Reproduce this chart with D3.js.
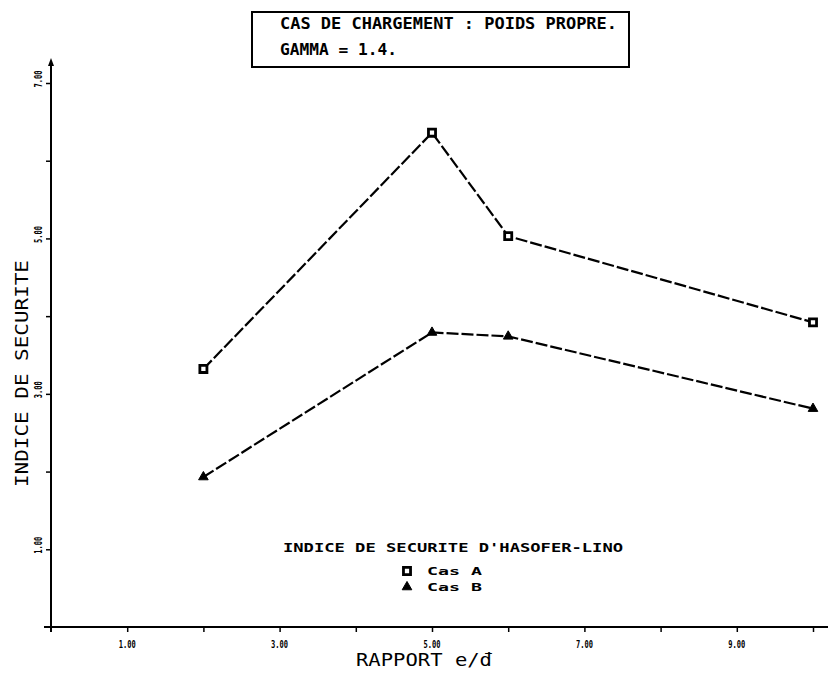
<!DOCTYPE html>
<html>
<head>
<meta charset="utf-8">
<script src="https://cdn.jsdelivr.net/npm/d3@7"></script>
<style>
  html, body { margin: 0; padding: 0; background: #fff; }
  svg { display: block; }
  text { font-family: "DejaVu Sans Mono", "Liberation Mono", monospace; fill: #000; }
  .thin { font-family: "DejaVu Sans Mono", monospace; font-weight: normal; }
</style>
</head>
<body>
<svg id="chart" width="828" height="677"></svg>
<script>
// Rapport e/d (abscissa) for each computed case
const rapport = [2, 5, 6, 10];
// Safety index (Hasofer-Lind) for each case
const casA = [3.32, 6.36, 5.03, 3.92];
const casB = [1.93, 3.79, 3.74, 2.81];

const seriesNames = ["Cas A", "Cas B"];
const xMajorTicks = [1, 3, 5, 7, 9];
const xMinorTicks = [2, 4, 6, 8, 10];
const yMajorTicks = [1, 3, 5, 7];
const yMinorTicks = [2, 4, 6];

const titleLines = ["CAS DE CHARGEMENT : POIDS PROPRE.", "GAMMA = 1.4."];
const legendTitle = "INDICE DE SECURITE D'HASOFER-LINO";
const xTitle = "RAPPORT e/\u0111";
const yTitle = "INDICE DE SECURITE";

const svg = d3.select("#chart");

const x = d3.scaleLinear().domain([0, 10]).range([51, 813]);
const y = d3.scaleLinear().domain([0, 7]).range([627, 83]);
const fmt = d3.format(".2f");

// ---- Axes ----
const xAxisG = svg.append("g").attr("transform", `translate(0,${y(0)})`);
xAxisG.call(d3.axisBottom(x).tickValues(xMajorTicks.concat(xMinorTicks))
  .tickSize(5).tickFormat(""));
xAxisG.select(".domain").remove();
xAxisG.selectAll(".tick line").attr("stroke", "#000").attr("stroke-width", 1.5);
xAxisG.append("line").attr("x1", 44).attr("x2", 828).attr("y1", 0).attr("y2", 0)
  .attr("stroke", "#000").attr("stroke-width", 2);

xAxisG.selectAll(".xlab").data(xMajorTicks).join("text")
  .attr("class", "xlab")
  .attr("x", d => x(d)).attr("y", 21)
  .attr("text-anchor", "middle")
  .attr("font-size", 10).attr("font-weight", "bold")
  .attr("textLength", 17).attr("lengthAdjust", "spacingAndGlyphs")
  .text(d => fmt(d));

const yAxisG = svg.append("g").attr("transform", `translate(${x(0)},0)`);
yAxisG.call(d3.axisLeft(y).tickValues(yMajorTicks.concat(yMinorTicks))
  .tickSize(5).tickFormat(""));
yAxisG.select(".domain").remove();
yAxisG.selectAll(".tick line").attr("stroke", "#000").attr("stroke-width", 1.5);
yAxisG.append("line").attr("x1", 0).attr("x2", 0).attr("y1", y(0) + 5).attr("y2", 64)
  .attr("stroke", "#000").attr("stroke-width", 2);
yAxisG.append("path").attr("d", "M0,58 L-3,66 L3,66 Z").attr("fill", "#000");

yAxisG.selectAll(".ylab").data(yMajorTicks).join("text")
  .attr("class", "ylab")
  .attr("transform", d => `translate(-9,${y(d) - 4}) rotate(-90)`)
  .attr("text-anchor", "middle")
  .attr("font-size", 10).attr("font-weight", "bold")
  .attr("textLength", 17).attr("lengthAdjust", "spacingAndGlyphs")
  .text(d => fmt(d));

// ---- Axis titles ----
svg.append("text").attr("class", "thin")
  .attr("x", 356).attr("y", 666)
  .attr("font-size", 18)
  .attr("textLength", 136).attr("lengthAdjust", "spacingAndGlyphs")
  .text(xTitle);

svg.append("text").attr("class", "thin")
  .attr("transform", "translate(28,487) rotate(-90)")
  .attr("font-size", 18)
  .attr("textLength", 227).attr("lengthAdjust", "spacingAndGlyphs")
  .text(yTitle);

// ---- Title box ----
svg.append("rect")
  .attr("x", 252).attr("y", 12).attr("width", 377).attr("height", 55)
  .attr("fill", "none").attr("stroke", "#000").attr("stroke-width", 2);
svg.append("text").attr("x", 280).attr("y", 29)
  .attr("font-size", 15).attr("font-weight", "bold")
  .attr("textLength", 337).attr("lengthAdjust", "spacingAndGlyphs")
  .text(titleLines[0]);
svg.append("text").attr("x", 280).attr("y", 55)
  .attr("font-size", 15).attr("font-weight", "bold")
  .attr("textLength", 117).attr("lengthAdjust", "spacingAndGlyphs")
  .text(titleLines[1]);

// ---- Series ----
const line = d3.line().x((d, i) => x(rapport[i])).y(d => y(d));
const seriesData = [casA, casB];

svg.selectAll(".series").data(seriesData).join("path")
  .attr("class", "series")
  .attr("d", d => line(d))
  .attr("fill", "none").attr("stroke", "#000").attr("stroke-width", 2.2)
  .attr("stroke-dasharray", "12,3");

const square = d3.symbol().type(d3.symbolSquare).size(50);
const triangle = d3.symbol().type(d3.symbolTriangle).size(40);

svg.selectAll(".markA").data(casA).join("path")
  .attr("class", "markA")
  .attr("transform", (d, i) => `translate(${x(rapport[i])},${y(d)})`)
  .attr("d", square())
  .attr("fill", "#fff").attr("stroke", "#000").attr("stroke-width", 2.8);

svg.selectAll(".markB").data(casB).join("path")
  .attr("class", "markB")
  .attr("transform", (d, i) => `translate(${x(rapport[i])},${y(d)})`)
  .attr("d", triangle())
  .attr("fill", "#000").attr("stroke", "#000").attr("stroke-width", 1);

// ---- Legend ----
svg.append("text").attr("x", 283).attr("y", 552)
  .attr("font-size", 13).attr("font-weight", "bold")
  .attr("textLength", 340).attr("lengthAdjust", "spacingAndGlyphs")
  .text(legendTitle);

const legendSymbols = [square, triangle];
const legendRows = svg.selectAll(".legrow").data(seriesNames).join("g")
  .attr("class", "legrow")
  .attr("transform", (d, i) => `translate(0,${571 + i * 16})`);
legendRows.append("path")
  .attr("transform", "translate(407,0)")
  .attr("d", (d, i) => legendSymbols[i]())
  .attr("fill", (d, i) => i === 0 ? "#fff" : "#000")
  .attr("stroke", "#000").attr("stroke-width", (d, i) => i === 0 ? 2.8 : 1);
legendRows.append("text")
  .attr("x", 427).attr("y", 4)
  .attr("font-size", 10).attr("font-weight", "bold")
  .attr("textLength", 55).attr("lengthAdjust", "spacingAndGlyphs")
  .text(d => d.replace(" ", "  "));
</script>
</body>
</html>
